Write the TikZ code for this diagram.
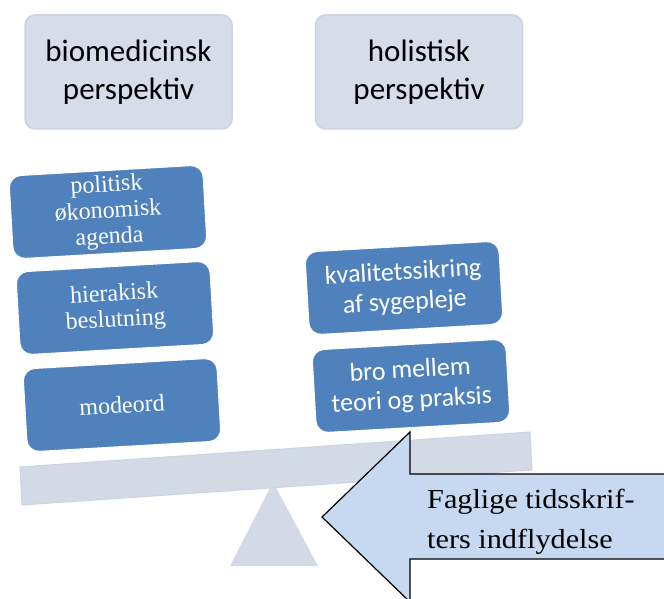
\documentclass[tikz,border=0pt]{standalone}
\usepackage{fontspec}
\setmainfont{Liberation Serif}
\setsansfont{Carlito}
\newfontfamily\arrowfont[FakeStretch=1.1]{Liberation Serif}

\definecolor{boxblue}{RGB}{79,129,189}
\definecolor{boxgrey}{RGB}{214,220,232}
\definecolor{edgegrey}{RGB}{204,211,225}
\definecolor{beamgrey}{RGB}{211,218,230}
\definecolor{arrowblue}{RGB}{198,217,241}

\begin{document}
\begin{tikzpicture}[x=1pt,y=-1pt,
  topbox/.style={rectangle, rounded corners=10pt, fill=boxgrey, draw=edgegrey, line width=1.5pt,
    minimum width=207pt, minimum height=114pt, inner sep=0pt, align=center,
    font=\sffamily\fontsize{31}{38}\selectfont},
  weightbox/.style={rectangle, rounded corners=12pt, fill=boxblue, draw=white, line width=1pt,
    minimum width=\boxW pt, minimum height=\boxH pt, inner sep=0pt, rotate=\tilt,
    align=center, text=white},
  serifbox/.style={weightbox, font=\rmfamily\fontsize{24}{26}\selectfont},
  sansbox/.style={weightbox, font=\sffamily\fontsize{26}{30}\selectfont}]

\pgfmathsetmacro{\tilt}{3.3}
\pgfmathsetmacro{\boxW}{194}
\pgfmathsetmacro{\boxH}{83}

\useasboundingbox (0,0) rectangle (664,599);

% the two perspectives
\node[topbox] (bio) at (128.5,72) {biomedicinsk\\perspektiv};
\node[topbox] (hol) at (419,72) {holistisk\\perspektiv};

% fulcrum and beam
\fill[beamgrey] (273,482) -- (318,566) -- (230,566) -- cycle;
\filldraw[fill=beamgrey, draw=edgegrey, line width=1pt] (20,467) -- (530,432) -- (532,470) -- (22,505) -- cycle;

% weights on the beam
\foreach \n/\x/\y/\t in {pol/108/212/{politisk\\økonomisk\\agenda}, hie/115/308/{hierakisk\\beslutning}, mod/122/405/modeord}
\node[serifbox] (\n) at (\x,\y) {\t};
\foreach \n/\x/\y/\t in {kva/404/288/{kvalitetssikring\\af sygepleje}, bro/411/386/{bro mellem\\teori og praksis}}
\node[sansbox] (\n) at (\x,\y) {\t};

% influence arrow
\begin{scope}
\clip (0,0) rectangle (664,599);
\filldraw[fill=arrowblue, draw=black, line width=1.2pt, line join=miter]
  (322,517) -- (410,432) -- (410,474) -- (680,474) -- (680,559) -- (410,559) -- (410,602) -- cycle;
\end{scope}
\node[anchor=base west, align=left, inner sep=0pt, font=\arrowfont\fontsize{27.5}{40}\selectfont]
  (infl) at (427,548) {Faglige tidsskrif-\\ters indflydelse};
\end{tikzpicture}
\end{document}
